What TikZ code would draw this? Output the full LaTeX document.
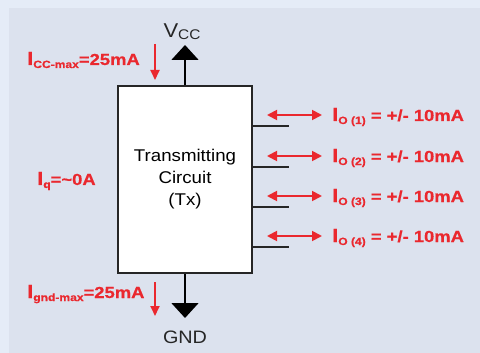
\documentclass[tikz,border=0pt]{standalone}
\usepackage{fontspec}
\setmainfont[FakeStretch=1.1]{Liberation Sans}
\newfontfamily\redfont[FakeStretch=1.15, FakeBold=0.6]{Liberation Sans Bold}
\usetikzlibrary{positioning, arrows.meta}

\definecolor{frameblue}{RGB}{229,236,247}
\definecolor{panelblue}{RGB}{220,226,238}
\definecolor{labelred}{RGB}{234,40,46}

% current label: big I, small subscript, then the value
\newcommand{\curlabel}[2]{{\fontsize{19}{19}\selectfont I}\raisebox{-3pt}{\fontsize{10.5}{10.5}\selectfont #1}#2}

\begin{document}
\begin{tikzpicture}[x=1pt, y=-1pt,
    chip/.style={draw=black!85, line width=1.6pt, fill=white, minimum width=134pt,
        minimum height=187pt, align=center, inner sep=0pt,
        font=\fontsize{17}{22}\selectfont},
    curr/.style={text=labelred, inner sep=0pt, anchor=base west,
        font=\redfont\fontsize{16}{18}\selectfont},
    rail/.style={inner sep=0pt, text=black!85},
    redarrow/.style={draw=labelred, line width=1.8pt, -{Triangle[length=10pt, width=9pt]}},
    dualarrow/.style={draw=labelred, line width=1.8pt,
        {Triangle[length=10pt, width=10pt]}-{Triangle[length=10pt, width=10pt]}},
    supply/.style={draw=black, line width=1.6pt, -{Triangle[length=15pt, width=27pt]}},
    pin/.style={draw=black!85, line width=1.6pt}]

    % background
    \fill[frameblue] (0,0) rectangle (480,353);
    \fill[panelblue] (9,8) rectangle (480,353);
    \useasboundingbox (0,0) rectangle (480,353);

    \node[chip] (tx) at (185,179.5) {Transmitting\\Circuit\\(Tx)};

    % supply rails
    \node[rail] (vcc) at (182,32) {\fontsize{20}{20}\selectfont V\raisebox{-2pt}{\fontsize{14}{14}\selectfont CC}};
    \node[rail] (gnd) at (185,337) {\fontsize{18}{18}\selectfont GND};
    \coordinate (vcctip) at (tx.north |- 0,45);
    \coordinate (gndtip) at (tx.south |- 0,318);
    \draw[supply] (tx.north) -- (vcctip);
    \draw[supply] (tx.south) -- (gndtip);

    % supply currents
    \node[curr] (icc) at (27,65) {\curlabel{CC-max}{=25mA}};
    \node[curr] (iq) at (37,185) {\curlabel{q}{=\textasciitilde0A}};
    \node[curr] (ignd) at (27,298) {\curlabel{gnd-max}{=25mA}};
    \coordinate (icctop) at (155,44);
    \coordinate (iccbot) at (155,80);
    \coordinate (ignddtop) at (155,282);
    \coordinate (ignddbot) at (155,316);
    \draw[redarrow] (icctop) -- (iccbot);
    \draw[redarrow] (ignddtop) -- (ignddbot);

    % output pins
    \foreach \k/\y in {1/126, 2/167, 3/207, 4/247} {
        \coordinate (pend\k) at (289,\y);
        \coordinate (pin\k) at (tx.east |- pend\k);
        \draw[pin] (pin\k) -- (pend\k);
        \coordinate (al\k) at (267,\y-11);
        \coordinate (ar\k) at (322,\y-11);
        \draw[dualarrow] (al\k) -- (ar\k);
        \node[curr] (io\k) at (332,\y-5) {\curlabel{O (\k)}{ = +/- 10mA}};
    }
\end{tikzpicture}
\end{document}
